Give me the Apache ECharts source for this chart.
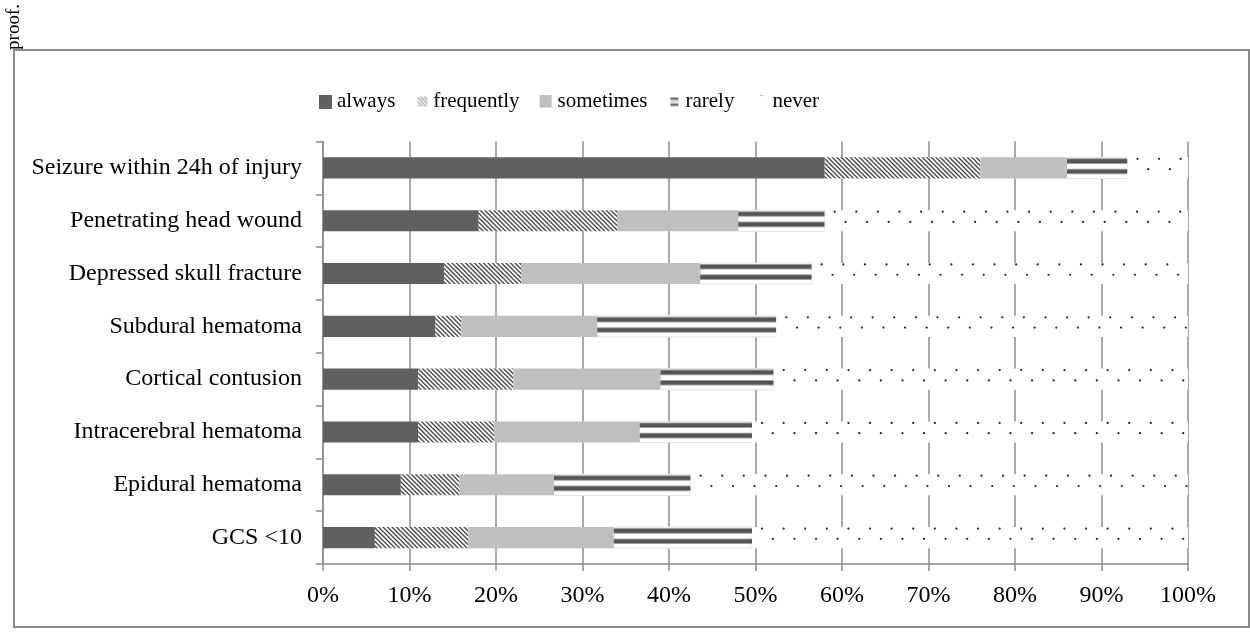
<!DOCTYPE html>
<html>
<head>
<meta charset="utf-8">
<script src="https://cdn.jsdelivr.net/npm/echarts@6/dist/echarts.min.js"></script>
<style>
  html, body { margin: 0; padding: 0; background: #fff; }
  #chart { width: 1250px; height: 634px; }
</style>
</head>
<body>
<div id="chart"></div>
<script>
// Survey answers per indication, in percent of respondents (top row first)
const categories = [
  'Seizure within 24h of injury',
  'Penetrating head wound',
  'Depressed skull fracture',
  'Subdural hematoma',
  'Cortical contusion',
  'Intracerebral hematoma',
  'Epidural hematoma',
  'GCS <10'
];
const seriesNames = ['always', 'frequently', 'sometimes', 'rarely', 'never'];
const always     = [58, 18, 14,   13,   11,   11,   9,    6];
const frequently = [18, 16, 8.9,  3,    11,   8.8,  6.8,  10.8];
const sometimes  = [10, 14, 20.7, 15.7, 17,   16.8, 10.9, 16.8];
const rarely     = [7,  10, 12.9, 20.7, 13.1, 13,   15.8, 16];
const never      = [7,  42, 43.5, 47.6, 47.9, 50.4, 57.5, 50.4];
const percentTicks = [0, 10, 20, 30, 40, 50, 60, 70, 80, 90, 100];

const FONT = '"Liberation Serif", "Times New Roman", Times, serif';
const DARK = '#606060';
const LIGHT = '#bfbfbf';
const GRID_GRAY = '#8c8c8c';

// ---- fill patterns -------------------------------------------------------
function makeCanvas(w, h) {
  const c = document.createElement('canvas');
  c.width = w; c.height = h;
  return c;
}

// diagonal "\" hatching
function hatchTile(color) {
  const c = makeCanvas(9, 9);
  const ctx = c.getContext('2d');
  ctx.fillStyle = '#fff';
  ctx.fillRect(0, 0, 9, 9);
  ctx.strokeStyle = color;
  ctx.lineWidth = 1.35;
  for (let a = -9; a <= 9; a += 4.5) {
    ctx.beginPath();
    ctx.moveTo(a - 1, -1);
    ctx.lineTo(a + 10, 10);
    ctx.stroke();
  }
  return c;
}
const hatchPattern = { image: hatchTile('#4a4a4a'), repeat: 'repeat' };

// ---- legend icons --------------------------------------------------------
function legendIcon(kind) {
  const c = makeCanvas(14, 14);
  const ctx = c.getContext('2d');
  if (kind === 'always') {
    ctx.fillStyle = DARK; ctx.fillRect(1, 0, 13, 14);
  } else if (kind === 'frequently') {
    ctx.save();
    ctx.beginPath(); ctx.rect(3, 2, 10, 10); ctx.clip();
    ctx.strokeStyle = '#a8a8a8'; ctx.lineWidth = 1.5;
    for (let a = -12; a <= 14; a += 4) {
      ctx.beginPath(); ctx.moveTo(a, 0); ctx.lineTo(a + 14, 14); ctx.stroke();
    }
    ctx.restore();
  } else if (kind === 'sometimes') {
    ctx.fillStyle = LIGHT; ctx.fillRect(1, 0, 12, 13);
  } else if (kind === 'rarely') {
    ctx.fillStyle = '#6a6a6a'; ctx.fillRect(4, 3, 8, 2.5);
    ctx.fillStyle = '#c8c8c8'; ctx.fillRect(4, 6.5, 8, 1.5);
    ctx.fillStyle = '#6a6a6a'; ctx.fillRect(4, 9, 8, 2.5);
  } else {
    ctx.fillStyle = '#777'; ctx.fillRect(7, 0, 2, 1.2);
  }
  return 'image://' + c.toDataURL();
}

// ---- stacked extents for the patterned segments --------------------------
const headSum = categories.map((_, i) => always[i] + frequently[i] + sometimes[i]);
const rarelyData = categories.map((_, i) => [i, headSum[i], headSum[i] + rarely[i]]);
const neverData = categories.map((_, i) => [i, headSum[i] + rarely[i], headSum[i] + rarely[i] + never[i]]);

function segmentBox(api) {
  const cat = api.value(0);
  const p0 = api.coord([api.value(1), cat]);
  const p1 = api.coord([api.value(2), cat]);
  const h = api.size([0, 1])[1] * 0.4;
  return { x: p0[0], x2: p1[0], top: p0[1] - h / 2, h: h };
}

// white segment with two dark horizontal bands
function renderRarely(params, api) {
  const b = segmentBox(api);
  const w = b.x2 - b.x;
  const kids = [{
    type: 'rect',
    shape: { x: b.x, y: b.top, width: w, height: b.h },
    style: { fill: '#fff', stroke: '#e2e2e2', lineWidth: 1 }
  }];
  [2, 12.4].forEach(off => {
    kids.push({ type: 'rect', shape: { x: b.x, y: b.top + off - 1, width: w, height: 5.6 }, style: { fill: '#9c9c9c' } });
    kids.push({ type: 'rect', shape: { x: b.x, y: b.top + off, width: w, height: 3.6 }, style: { fill: '#555' } });
  });
  return { type: 'group', children: kids };
}

// white segment with staggered dots
function renderNever(params, api) {
  const b = segmentBox(api);
  const kids = [{
    type: 'rect',
    shape: { x: b.x, y: b.top, width: b.x2 - b.x, height: b.h },
    style: { fill: '#fff' }
  }];
  const step = 21.6;
  [[1.5, 10], [11.8, 20.8]].forEach(([dy, dx]) => {
    for (let x = b.x + dx; x < b.x2 - 1; x += step) {
      kids.push({ type: 'circle', shape: { cx: x, cy: b.top + dy, r: 1.1 }, style: { fill: '#222' } });
    }
  });
  return { type: 'group', children: kids };
}

// ---- chart ---------------------------------------------------------------
const chart = echarts.init(document.getElementById('chart'), null, { renderer: 'canvas' });

const icons = seriesNames.map(legendIcon);
const legendText = { fontFamily: FONT, fontSize: 21, color: '#000' };

chart.setOption({
  animation: false,
  backgroundColor: '#fff',
  textStyle: { fontFamily: FONT },
  legend: {
    left: 318,
    top: 91,
    padding: 0,
    itemWidth: 14,
    itemHeight: 14,
    itemGap: 19,
    selectedMode: false,
    textStyle: legendText,
    data: seriesNames.map((n, i) => ({ name: n, icon: icons[i], textStyle: legendText }))
  },
  grid: { left: 323, right: 62, top: 141.5, bottom: 70, containLabel: false },
  xAxis: {
    type: 'value',
    min: percentTicks[0],
    max: percentTicks[percentTicks.length - 1],
    interval: percentTicks[1] - percentTicks[0],
    axisLine: { show: true, lineStyle: { color: GRID_GRAY, width: 1.5 } },
    axisTick: { show: true, length: 7, lineStyle: { color: GRID_GRAY, width: 1.5 } },
    splitLine: { show: true, lineStyle: { color: GRID_GRAY, width: 1.5 } },
    axisLabel: { margin: 20, fontSize: 24, color: '#000', fontFamily: FONT, formatter: v => v + '%' }
  },
  yAxis: {
    type: 'category',
    inverse: true,
    data: categories,
    axisLine: { show: true, lineStyle: { color: GRID_GRAY, width: 1.5 } },
    axisTick: { show: true, length: 7, lineStyle: { color: GRID_GRAY, width: 1.5 } },
    splitLine: { show: false },
    axisLabel: { margin: 21, fontSize: 24, color: '#000', fontFamily: FONT }
  },
  series: [
    {
      name: 'always', type: 'bar', stack: 'total', barWidth: '40%',
      itemStyle: { color: DARK }, data: always
    },
    {
      name: 'frequently', type: 'bar', stack: 'total', barWidth: '40%',
      itemStyle: { color: hatchPattern }, data: frequently
    },
    {
      name: 'sometimes', type: 'bar', stack: 'total', barWidth: '40%',
      itemStyle: { color: LIGHT }, data: sometimes
    },
    {
      name: 'rarely', type: 'custom', renderItem: renderRarely,
      itemStyle: { color: '#555' },
      encode: { x: [1, 2], y: 0 }, data: rarelyData
    },
    {
      name: 'never', type: 'custom', renderItem: renderNever,
      itemStyle: { color: '#fff' },
      encode: { x: [1, 2], y: 0 }, data: neverData
    }
  ],
  graphic: [
    {
      type: 'text', x: 24, y: 4, rotation: Math.PI / 2, z: 1,
      style: { text: 'proof.', font: '19px ' + FONT, fill: '#000', align: 'right', verticalAlign: 'bottom' }
    },
    {
      type: 'rect', z: 2, shape: { x: 0, y: 51, width: 40, height: 10 },
      style: { fill: '#fff' }
    },
    {
      type: 'rect', z: 3, shape: { x: 14, y: 50, width: 1235, height: 577 },
      style: { fill: 'none', stroke: '#8a8a8a', lineWidth: 2 }
    }
  ]
});
</script>
</body>
</html>
